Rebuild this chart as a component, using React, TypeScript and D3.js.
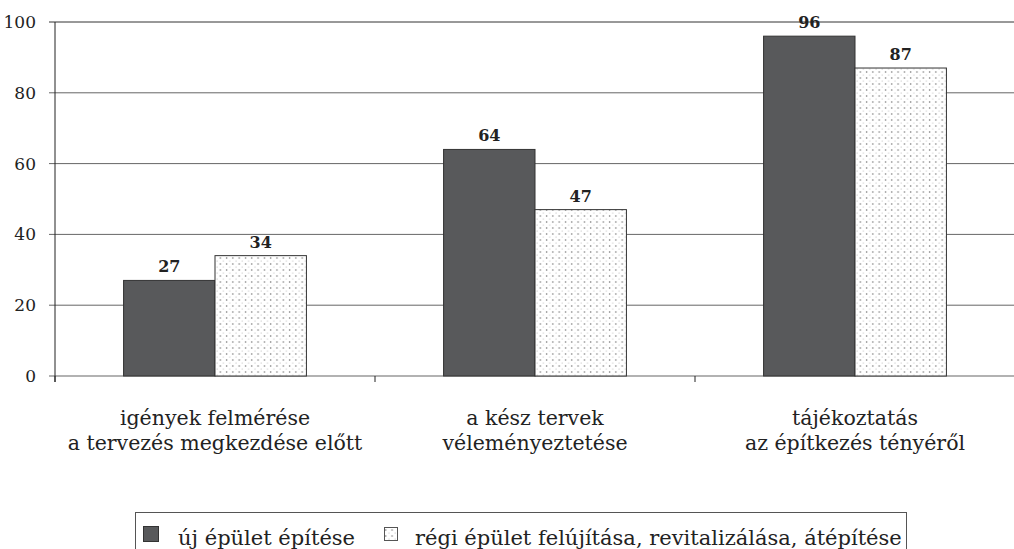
import React from 'react';
import * as d3 from 'd3';

const categories = [
  ['igények felmérése', 'a tervezés megkezdése előtt'],
  ['a kész tervek', 'véleményeztetése'],
  ['tájékoztatás', 'az építkezés tényéről'],
];
const seriesNames = ['új épület építése', 'régi épület felújítása, revitalizálása, átépítése'];
const newBuilding = [27, 64, 96];
const oldBuilding = [34, 47, 87];
const yTicks = [0, 20, 40, 60, 80, 100];

const width = 1014;
const height = 549;
const margin = { top: 22, right: 0, bottom: 173, left: 55 };
const serif = '"DejaVu Serif", serif';

export default function App() {
  const innerW = 960;
  const innerH = height - margin.top - margin.bottom;

  const x = d3.scaleBand<number>().domain(d3.range(categories.length)).range([0, innerW]).paddingInner(0).paddingOuter(0);
  const xs = d3.scaleBand<number>().domain([0, 1]).range([0, x.bandwidth()]).paddingOuter(0.75).paddingInner(0);
  const y = d3.scaleLinear().domain([0, 100]).range([innerH, 0]);

  const series = [newBuilding, oldBuilding];

  return (
    <svg width={width} height={height} style={{ position: 'absolute', left: 0, top: 0, background: '#fff' }}>
      <defs>
        <pattern id="dots" width={6.3} height={6} patternUnits="userSpaceOnUse">
          <rect width={6.3} height={6} fill="#fff" />
          <circle cx={1.5} cy={2} r={0.8} fill="#777" />
          <circle cx={4.6} cy={5} r={0.5} fill="#aaa" />
        </pattern>
      </defs>
      <g transform={`translate(${margin.left},${margin.top})`}>
        {yTicks.map((t) => (
          <g key={t}>
            <line x1={-6} x2={innerW} y1={y(t)} y2={y(t)} stroke={t === 100 ? '#333' : '#666'} strokeWidth={t === 0 ? 1.2 : 1} />
            <text x={-19} y={y(t)} dy="0.35em" textAnchor="end" fontFamily={serif} fontSize={17} fill="#222">{t}</text>
          </g>
        ))}
        <line x1={0} x2={0} y1={0} y2={innerH + 6} stroke="#222" />
        {d3.range(categories.length + 1).map((i) => (
          <line key={i} x1={i * x.bandwidth()} x2={i * x.bandwidth()} y1={innerH} y2={innerH + 6} stroke="#222" />
        ))}
        {categories.map((c, i) => (
          <g key={i} transform={`translate(${x(i)},0)`}>
            {series.map((s, k) => (
              <g key={k}>
                <rect
                  x={xs(k)}
                  y={y(s[i])}
                  width={xs.bandwidth()}
                  height={innerH - y(s[i])}
                  fill={k === 0 ? '#58595b' : 'url(#dots)'}
                  stroke="#333"
                  strokeWidth={1}
                />
                <text x={xs(k)! + xs.bandwidth() / 2} y={y(s[i]) - 8} textAnchor="middle" fontFamily={serif} fontWeight="bold" fontSize={16} fill="#222">{s[i]}</text>
              </g>
            ))}
            {c.map((line, j) => (
              <text key={j} x={x.bandwidth() / 2} y={innerH + 49 + j * 25} textAnchor="middle" fontFamily={serif} fontSize={20.5} fill="#222">{line}</text>
            ))}
          </g>
        ))}
      </g>
      <g>
        <rect x={135.5} y={512.5} width={771} height={50} fill="none" stroke="#555" />
        <rect x={143.5} y={526.5} width={15} height={15} fill="#58595b" stroke="#333" />
        <text x={178} y={545} fontFamily={serif} fontSize={21} fill="#222">{seriesNames[0]}</text>
        <rect x={384.5} y={527.5} width={13} height={13} fill="url(#dots)" stroke="#555" />
        <text x={415} y={545} fontFamily={serif} fontSize={21} fill="#222">{seriesNames[1]}</text>
      </g>
    </svg>
  );
}
